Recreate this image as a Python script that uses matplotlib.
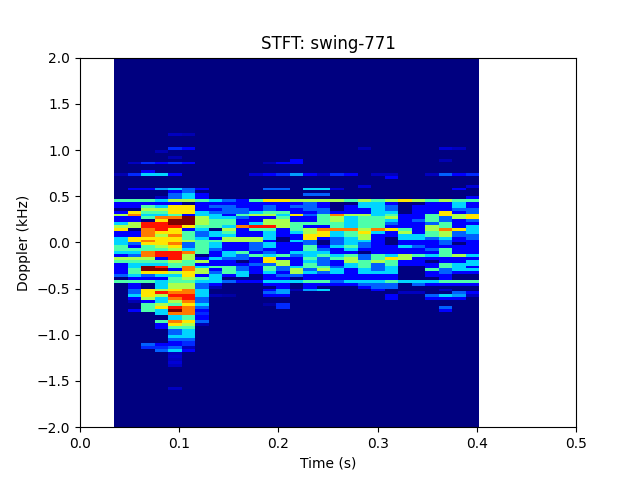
import numpy as np
import matplotlib
matplotlib.use("Agg")
import matplotlib.pyplot as plt

TITLE = "STFT: swing-771"
T_START = 0.0343
T_STOP = 0.4025
N_FRAMES = 27
N_BINS = 128
FIRST_ROW = 24  # r=0 below sits at +1.25 kHz
BAND_START = 25

# strong band, one list per STFT frame, rows r25..r54 from top to bottom (levels 0-9)
band_frames = [
    [4,1,1,0,1,5,1,1,3,5,6,1,1,3,3,3,4,4,3,1,5,4,1,1,1,1,2,0,4,0],
    [4,1,1,0,6,7,1,1,5,5,0,1,1,6,6,2,1,4,3,2,5,4,3,3,4,4,3,1,4,1],
    [4,1,4,5,4,3,4,0,8,8,7,7,7,6,7,6,4,4,7,7,5,4,3,9,9,6,2,1,4,0],
    [3,1,3,5,4,3,7,6,8,8,8,6,5,6,6,6,5,4,8,8,1,4,3,8,9,6,3,1,3,3],
    [5,1,6,6,6,4,7,9,9,8,6,6,7,6,6,7,6,5,8,8,8,5,4,4,1,5,3,4,4,5],
    [5,0,6,6,6,1,9,9,9,6,1,4,4,4,5,2,2,3,7,5,5,4,4,7,7,6,6,5,4,5],
    [4,1,1,1,3,3,5,5,5,4,3,2,2,3,4,4,4,4,4,0,1,5,1,3,5,5,1,4,3,2],
    [3,1,2,1,2,3,3,4,4,4,0,3,3,1,4,3,3,2,1,1,3,1,1,4,1,2,3,3,3,1],
    [2,1,2,2,2,1,3,4,4,3,5,4,3,5,5,1,1,1,3,3,2,1,1,4,4,4,1,0,2,0],
    [1,1,1,2,2,4,2,1,1,7,1,1,1,5,5,1,1,1,4,2,2,0,1,2,2,3,3,0,1,0],
    [4,1,1,1,3,5,1,1,3,8,4,1,1,5,5,2,2,2,1,4,1,1,2,1,1,1,0,0,1,0],
    [6,1,2,2,4,5,1,5,5,8,4,3,3,3,1,3,3,1,2,3,6,6,2,4,4,3,1,1,3,1],
    [6,1,1,1,4,3,4,5,5,5,1,1,1,0,0,1,1,1,1,4,1,5,5,2,2,1,2,1,3,1],
    [5,1,2,1,1,6,1,1,4,4,4,3,1,1,3,1,1,1,3,2,1,1,1,3,5,5,2,0,3,0],
    [5,2,2,2,1,2,1,1,4,1,5,5,6,6,2,2,4,4,3,3,4,3,4,4,2,3,1,1,4,1],
    [5,1,1,2,2,4,4,4,4,1,7,6,6,1,0,0,1,2,3,4,2,2,2,4,5,2,1,1,4,1],
    [5,0,0,0,1,7,5,5,4,4,7,3,3,2,2,2,3,1,1,3,4,1,1,2,3,3,1,1,2,1],
    [4,0,1,1,1,5,3,3,3,3,7,4,4,3,3,3,4,3,1,4,5,5,3,3,1,1,1,1,3,1],
    [5,3,3,1,1,5,4,4,4,4,5,6,5,5,3,2,2,1,0,2,2,4,4,4,3,3,1,1,3,2],
    [4,3,3,3,3,3,4,4,4,4,7,3,1,1,1,1,1,1,1,4,4,5,2,2,2,3,1,1,3,2],
    [5,1,2,2,3,4,5,3,2,1,6,1,1,0,0,0,1,1,1,3,6,4,4,3,3,3,1,1,4,2],
    [6,0,0,0,0,1,1,1,1,1,4,5,3,3,1,1,3,1,1,5,5,1,1,0,0,0,0,0,3,0],
    [5,0,1,1,1,1,1,2,1,1,1,1,3,3,1,1,2,1,1,4,1,1,1,0,0,0,0,0,3,2],
    [4,1,1,1,1,4,4,4,2,5,5,4,4,2,1,1,1,2,1,3,1,0,1,1,4,1,1,0,3,1],
    [5,1,1,1,6,6,2,2,4,4,7,5,5,3,2,2,1,4,4,4,1,1,4,4,2,2,1,1,4,1],
    [4,3,3,2,1,5,5,1,1,1,6,2,2,1,1,0,1,1,1,5,1,1,3,3,3,1,0,0,4,1],
    [4,1,1,2,2,6,6,2,1,3,3,3,2,2,1,1,1,1,1,3,1,3,3,1,3,1,0,0,4,1],
]

# weak returns outside the band: (frame, r, level)
upper_peaks = [
    (4,2,.5),(5,2,.4),(3,8,.4),(4,7,1.5),(5,7,1),(4,10,.4),(1,12,.5),(2,12,1.5),(3,12,1),(4,12,1.5),(5,12,1),
    (0,16,.4),(1,16,1.5),(2,16,3),(3,16,3),(4,16,1),(2,15,1),(10,16,.7),(11,16,1),(12,16,1.5),(13,16,2.5),
    (14,16,1),(15,16,.5),(16,16,1.5),(17,16,1),(19,16,.5),(20,16,.5),(20,17,1),(23,16,.5),(24,16,2),(25,16,1),(26,16,1.5),
    (18,7,.4),(24,7,.7),(25,7,.5),(13,11,1),(24,11,.4),(11,12,.4),(12,12,1),(13,12,1),
    (1,21,1),(2,21,1),(3,21,2.5),(4,21,3),(5,21,2),(6,21,1),(11,21,2),(12,21,2),(14,21,3),(15,21,3),(16,21,.7),
    (18,20,.7),(25,21,1),(26,20,.7),(4,22,1),(5,22,2),(14,23,2),(15,23,2),(3,24,.5),(4,23,2),(4,24,2),(5,23,3),(5,24,3),
    (6,23,1),(6,24,1),(26,24,1),
]
lower_peaks = [
    (1,55,1),(1,56,2),(1,57,2),(1,58,3),(1,59,1),(1,60,.4),(1,63,1),
    (2,56,6),(2,57,6),(2,58,6),(2,59,5),(2,60,1),(2,61,4),(2,62,4),(2,63,4),(2,75,2),(2,76,1.5),
    (3,55,3),(3,56,5),(3,57,8),(3,58,5),(3,59,3),(3,60,3),(3,61,5),(3,62,6),(3,63,3),(3,64,3),(3,67,4),(3,68,1),(3,69,1),
    (3,75,1),(3,76,1.5),(3,77,2),
    (4,55,5),(4,56,6),(4,57,7),(4,58,8),(4,59,7),(4,60,5),(4,61,4),(4,62,8),(4,63,9),(4,64,7),(4,65,3),(4,66,3),(4,67,7),
    (4,68,6),(4,69,4),(4,70,2),(4,71,2),(4,72,3),(4,73,2),(4,74,1),(4,75,1),(4,76,2),(4,77,3),(4,78,.5),(4,79,.6),(4,80,.5),
    (4,81,.7),(4,82,.5),(4,90,.5),
    (5,55,5),(5,56,7),(5,57,7),(5,58,8),(5,59,8),(5,60,7),(5,61,6),(5,62,7),(5,63,7),(5,64,7),(5,65,4),(5,66,4),(5,67,6),
    (5,68,5),(5,69,4),(5,70,3),(5,71,3),(5,72,3),(5,73,2),(5,74,1.5),(5,75,1.5),(5,76,.5),(5,77,1),
    (6,55,2),(6,56,3),(6,57,3),(6,58,3),(6,59,2),(6,60,2),(6,61,3),(6,62,2),(6,63,1),(6,64,1.5),(6,65,1),(6,66,1),(6,67,2),(6,68,.4),
    (7,55,.4),(7,58,.4),(8,58,.3),(11,56,1),(11,57,2),(11,58,1),(11,61,.3),(12,55,1),(12,56,2.5),(12,57,2.5),(12,58,1),
    (12,61,1.5),(12,62,1.5),(13,56,.4),(14,55,1),(14,56,2.5),(15,56,3),(18,55,1),(19,55,2),(19,56,1),(20,55,2),(20,58,1),(20,59,1),
    (21,57,.5),(22,57,.5),(23,58,2),(23,59,1),(24,56,.5),(24,58,3),(24,59,1),(24,62,2),(24,63,1),(25,57,2),(25,58,2.5),(25,59,1),
    (26,57,1),(26,58,.5),
]

spec = np.zeros((N_BINS, N_FRAMES))
for j, frame in enumerate(band_frames):
    for i, level in enumerate(frame):
        spec[FIRST_ROW + BAND_START + i, j] = level
for j, r, level in upper_peaks + lower_peaks:
    spec[FIRST_ROW + r, j] = level

t_edges = np.linspace(T_START, T_STOP, N_FRAMES + 1)
f_edges = np.linspace(2, -2, N_BINS + 1)

fig, ax = plt.subplots()
ax.pcolormesh(t_edges, f_edges, spec, cmap="jet", vmin=0, vmax=9, shading="flat")
ax.set_xlim(0, 0.5)
ax.set_ylim(-2, 2)
ax.set_title(TITLE)
ax.set_xlabel("Time (s)")
ax.set_ylabel("Doppler (kHz)")
fig.savefig("out.png", dpi=100)
